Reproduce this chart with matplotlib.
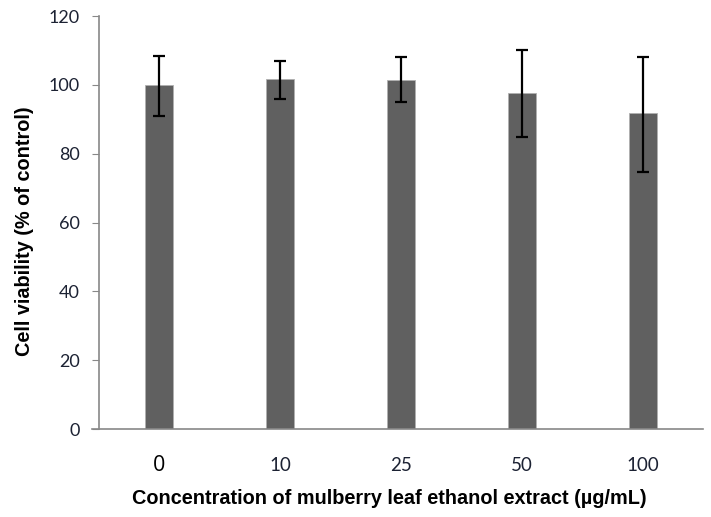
import numpy as np
import matplotlib
matplotlib.use("Agg")
import matplotlib.pyplot as plt

labels = ["0", "10", "25", "50", "100"]
viability = [100, 101.8, 101.3, 97.5, 91.7]
err_upper = [108.5, 107, 108, 110, 108]
err_lower = [91.1, 95.9, 95.1, 84.9, 74.7]

x = np.arange(len(labels))
yerr = [np.array(viability) - np.array(err_lower), np.array(err_upper) - np.array(viability)]

fig = plt.figure(figsize=(7.11, 5.17), dpi=100)
ax = fig.add_axes([0.1392, 0.170, 0.8495, 0.799])
ax.bar(x, viability, width=0.232, color="#606060", edgecolor="#b0b0b0", linewidth=0.6)
ax.errorbar(x, viability, yerr=yerr, fmt="none", ecolor="black", elinewidth=1.6, capsize=4, capthick=1.6)

ax.set_xlim(-0.5, len(labels) - 0.5)
ax.set_ylim(0, 120)
ax.set_yticks(range(0, 121, 20))
ax.set_yticklabels([str(v) for v in range(0, 121, 20)], fontsize=13, family="Lato", color="#1c2233")
ax.set_xticks(x)
ax.set_xticklabels(labels, fontsize=13.5, family="Lato", color="#1c2233")
ax.get_xticklabels()[0].set_fontsize(15.5)
ax.get_xticklabels()[0].set_color("black")
ax.get_xticklabels()[0].set_family("Open Sans")
for t in ax.get_xticklabels():
    t.set_verticalalignment("center")
ax.tick_params(axis="x", length=0, pad=26)
ax.tick_params(axis="y", length=5, color="#888888", pad=8.6)
for s in ["top", "right"]:
    ax.spines[s].set_visible(False)
for s in ["left", "bottom"]:
    ax.spines[s].set_color("#888888")
    ax.spines[s].set_linewidth(1.2)
ax.spines["bottom"].set_bounds(-0.558, 4.5)

ax.set_ylabel("Cell viability (% of control)", fontsize=14.3, fontweight="bold", family="Liberation Sans", va="center")
ax.yaxis.set_label_coords(-0.124, 0.479)
ax.set_xlabel("Concentration of mulberry leaf ethanol extract (\u00b5g/mL)", fontsize=14.3, fontweight="bold", family="Liberation Sans", va="center")
ax.xaxis.set_label_coords(0.480, -0.169)

fig.savefig("out.png", dpi=100)
